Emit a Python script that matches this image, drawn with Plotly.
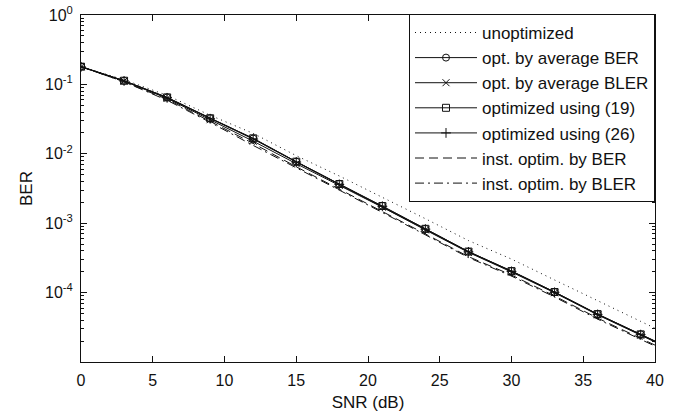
import plotly.graph_objects as go

# SNR grid (dB); last point lies past the axis end so lines run to the frame
snr = [0, 3, 6, 9, 12, 15, 18, 21, 24, 27, 30, 33, 36, 39, 42]

ber_unopt = [0.18, 0.117, 0.0695, 0.0359, 0.0197, 0.0094, 0.00479, 0.00239,
             0.00116, 0.000562, 0.000304, 0.000152, 0.0000755, 0.0000385,
             0.0000195]
ber_avg_ber = [0.181, 0.113, 0.065, 0.0326, 0.0166, 0.0077, 0.00368, 0.00178,
               0.00083, 0.00039, 0.000205, 0.000102, 0.000049, 0.0000251,
               0.0000128]
ber_avg_bler = [0.18, 0.112, 0.063, 0.031, 0.0152, 0.0072, 0.0035, 0.0017,
                0.0008, 0.00038, 0.000198, 0.0000995, 0.0000478, 0.0000244,
                0.0000124]
ber_eq19 = [0.18, 0.113, 0.065, 0.0325, 0.0167, 0.0077, 0.00367, 0.00177,
            0.00083, 0.00039, 0.000204, 0.000102, 0.000049, 0.000025,
            0.0000127]
ber_eq26 = [0.179, 0.112, 0.064, 0.032, 0.0163, 0.0076, 0.00362, 0.00175,
            0.00082, 0.000386, 0.000202, 0.000101, 0.0000485, 0.0000248,
            0.0000126]
ber_inst_ber = [0.18, 0.109, 0.061, 0.0294, 0.0141, 0.0065, 0.0031, 0.0015,
                0.0007, 0.00033, 0.000179, 0.0000894, 0.0000429, 0.0000219,
                0.0000112]
ber_inst_bler = [0.18, 0.109, 0.059, 0.0284, 0.0132, 0.0063, 0.003, 0.00145,
                 0.00068, 0.00032, 0.000173, 0.0000864, 0.0000415, 0.0000212,
                 0.0000108]

x_ticks = [0, 5, 10, 15, 20, 25, 30, 35, 40]
y_ticks = [1, 0.1, 0.01, 0.001, 0.0001]
y_ticktext = ['10<sup>0</sup>', '10<sup>-1</sup>', '10<sup>-2</sup>',
              '10<sup>-3</sup>', '10<sup>-4</sup>']

FONT = 'Liberation Sans, Arial, sans-serif'
INK = '#111'

series = [
    ('unoptimized', ber_unopt, '1px,4px', None),
    ('opt. by average BER', ber_avg_ber, 'solid', 'circle-open'),
    ('opt. by average BLER', ber_avg_bler, 'solid', 'x-thin-open'),
    ('optimized using (19)', ber_eq19, 'solid', 'square-open'),
    ('optimized using (26)', ber_eq26, 'solid', 'cross-thin-open'),
    ('inst. optim. by BER', ber_inst_ber, '9px,5px', None),
    ('inst. optim. by BLER', ber_inst_bler, '9px,4px,2px,4px', None),
]

fig = go.Figure()
for name, vals, dash, symbol in series:
    fig.add_trace(go.Scatter(
        x=snr, y=vals, name=name,
        mode='lines+markers' if symbol else 'lines',
        line=dict(color=INK, width=1, dash=dash),
        marker=dict(symbol=symbol or 'circle', size=7, color=INK,
                    line=dict(color=INK, width=1)),
    ))

fig.update_layout(
    width=686, height=412,
    margin=dict(l=81, r=31, t=15, b=50),
    paper_bgcolor='white', plot_bgcolor='white',
    font=dict(family=FONT, size=16, color=INK),
    legend=dict(x=1, y=1.003, xanchor='right', yanchor='top',
                bgcolor='white', bordercolor=INK, borderwidth=1,
                font=dict(size=17), itemwidth=62),
)
fig.update_xaxes(
    range=[0, 40], tickvals=x_ticks, ticks='inside', ticklen=6,
    tickcolor=INK, showline=True, linecolor=INK, linewidth=1, mirror='ticks',
    showgrid=False, zeroline=False, automargin=False, ticklabelstandoff=4,
    ticklabeloverflow='allow',
    title=dict(text='SNR (dB)', standoff=7, font=dict(size=17)),
)
fig.update_yaxes(
    type='log', range=[-5, 0], tickvals=y_ticks, ticktext=y_ticktext,
    ticks='inside', ticklen=6, tickcolor=INK, showline=True, linecolor=INK,
    linewidth=1, mirror='ticks', showgrid=False, zeroline=False,
    automargin=False, ticklabelstandoff=4, ticklabeloverflow='allow',
    minor=dict(ticks='inside', ticklen=3, tickcolor=INK, dtick='D1',
               showgrid=False),
    title=dict(text='BER', standoff=8, font=dict(size=17)),
)

# drop the default body margin so the figure sits at the window corner
fig.write_html('out.html', config={'displayModeBar': False},
               post_script="document.body.style.margin='0';")
